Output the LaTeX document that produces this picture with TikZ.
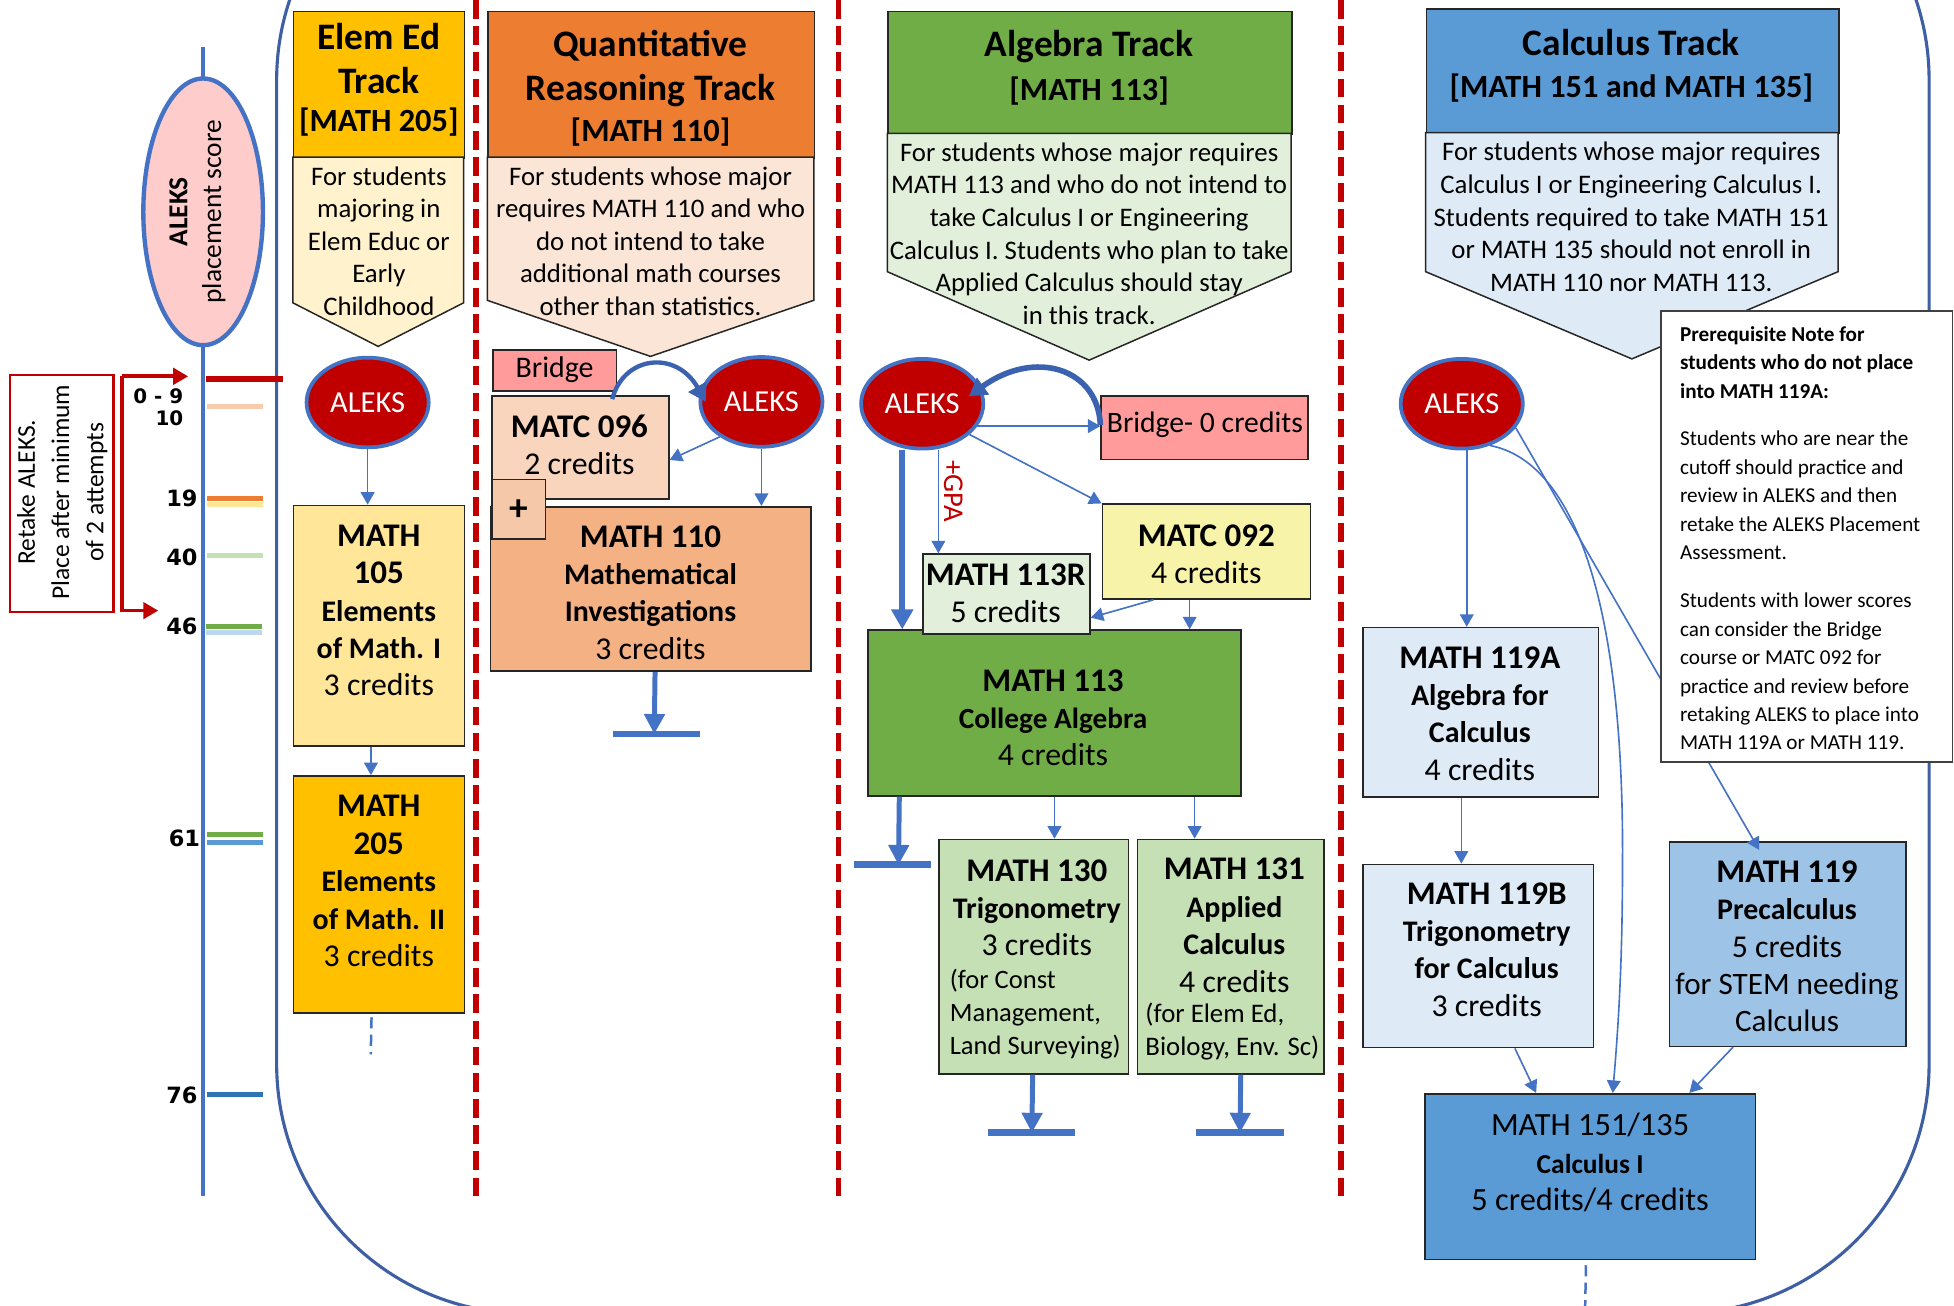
\documentclass[tikz,border=0pt]{standalone}
\usepackage{fontspec}
\setmainfont{Carlito}
\newfontfamily\scorefont{DejaVu Sans}
\usetikzlibrary{arrows.meta,shapes.geometric,calc}
\definecolor{dred}{HTML}{C00000}
\definecolor{lblue}{HTML}{4472C4}
\definecolor{contblue}{HTML}{3F5FA5}
\definecolor{cblue}{HTML}{3A62B0}
\definecolor{pinkell}{HTML}{FFCCCC}
\definecolor{gold}{HTML}{FFC000}
\definecolor{yelA}{HTML}{FFE699}
\definecolor{yelB}{HTML}{FFF2CC}
\definecolor{orng}{HTML}{ED7D31}
\definecolor{peach}{HTML}{F4B183}
\definecolor{peachB}{HTML}{FBE5D6}
\definecolor{matcA}{HTML}{F9D5BE}
\definecolor{plusc}{HTML}{F6C8AA}
\definecolor{grn}{HTML}{70AD47}
\definecolor{grnA}{HTML}{C5E0B4}
\definecolor{grnB}{HTML}{E2EFDA}
\definecolor{blu}{HTML}{5B9BD5}
\definecolor{bluA}{HTML}{9DC3E6}
\definecolor{bluB}{HTML}{DEEBF7}
\definecolor{bridgec}{HTML}{FF9B9B}
\definecolor{matcB}{HTML}{F7F3A8}
\definecolor{tkpeach}{HTML}{F8CBAD}
\definecolor{tkyel}{HTML}{FFE699}
\definecolor{tkgrnA}{HTML}{C5E0B4}
\definecolor{tkbluA}{HTML}{BDD7EE}
\definecolor{tkblu}{HTML}{2E75B6}
\newcommand\setfs[2]{\fontsize{#1}{#2}\selectfont}
\newcommand\cnum[1]{{\setfs{26.5}{30}\bfseries #1}}
\newcommand\csub[1]{{\setfs{24}{30}\bfseries #1}}
\newcommand\ccred[1]{{\setfs{25.5}{30}#1}}
\newcommand\mybox[6]{%
  \pgfmathsetmacro\bw{#5-#3}\pgfmathsetmacro\bh{#6-#4}%
  \node[box,fill=#2,minimum width=\bw pt,minimum height=\bh pt] (#1) at (#3,#4) {};}
\newcommand\penta[6]{%
  \pgfmathsetmacro\xm{(#2+#3)/2}%
  \draw[draw=black!85,line width=1.2pt,fill=#1] (#2,#4) -- (#3,#4) -- (#3,#5) -- (\xm,#6) -- (#2,#5) -- cycle;}
\begin{document}
\begin{tikzpicture}[x=1pt,y=-1pt,
  box/.style={draw=black!85,line width=1.3pt,inner sep=0pt,anchor=north west},
  txt/.style={inner sep=0pt,align=center,text=black},
  ltxt/.style={inner sep=0pt,align=left,text=black,anchor=west},
  aleks/.style={ellipse,draw=lblue,line width=3pt,fill=dred,text=white,minimum width=98pt,minimum height=72pt,inner sep=0pt,font=\setfs{24.5}{28}},
  conn/.style={draw=lblue,line width=1.3pt,-{Triangle[length=10pt,width=11pt]}},
  fat/.style={draw=lblue,line width=4.8pt,-{Triangle[length=16pt,width=17pt]}},
  term/.style={draw=lblue,line width=4pt,-{Triangle[length=16pt,width=16pt]}},
  bar/.style={draw=lblue,line width=5.5pt},
  sep/.style={draw=dred,line width=4.5pt,dash pattern=on 15pt off 6pt},
  tick/.style={line width=4pt},
  score/.style={inner sep=0pt,font=\scorefont\bfseries\setfs{18}{20}},
  redarr/.style={draw=dred,line width=3pt,-{Triangle[length=12pt,width=13pt]}},
  curvy/.style={draw=cblue,line width=4pt,-{Triangle[length=14pt,width=16pt]}},
  vdash/.style={draw=lblue,line width=2pt,dash pattern=on 9pt off 5pt},
  hdrA/.style={txt,font=\bfseries\setfs{30}{34}},
  hdrB/.style={txt,font=\bfseries\setfs{26}{30}},
  body/.style={txt,font=\setfs{21.5}{26.2}},
  crs/.style={txt,font=\setfs{25}{30}},
]
\useasboundingbox (0,0) rectangle (1568,1048);
\clip (0,0) rectangle (1568,1048);

% container
\draw[draw=contblue,line width=2.5pt,rounded corners=200pt] (222,-136) rectangle (1548,1054);

% separators
\draw[sep] (382,0) -- (382,963);
\draw[sep] (673,0) -- (673,963);
\draw[sep] (1076,0) -- (1076,963);

% score axis
\draw[lblue,line width=3pt] (163,38) -- (163,960);
\draw[tick,tkpeach] (166,326) -- (211,326);
\draw[tick,orng] (166,400) -- (211,400);
\draw[tick,tkyel] (166,405) -- (211,405);
\draw[tick,tkgrnA] (166,446) -- (211,446);
\draw[tick,grn] (165,503) -- (210,503);
\draw[tick,tkbluA] (165,507.5) -- (210,507.5);
\draw[tick,grn] (166,670) -- (211,670);
\draw[tick,blu] (166,676) -- (211,676);
\draw[tick,tkblu] (166,878) -- (211,878);
\draw[dred,line width=4.5pt] (165,304) -- (227,304);
\node[ellipse,draw=lblue,line width=3.5pt,fill=pinkell,minimum width=96pt,minimum height=214pt,inner sep=0pt] (place) at (163,170) {};
\node[txt,rotate=90,font=\setfs{22}{27}] (placetxt) at (158.5,170) {\textbf{ALEKS}\\placement score};

\node[score,font=\scorefont\bfseries\setfs{16}{17}] (s09) at (127,318) {0 - 9};
\node[score,font=\scorefont\bfseries\setfs{16}{17}] (s10) at (136,336) {10};
\node[score] (s19) at (146,400) {19};
\node[score] (s40) at (146,447) {40};
\node[score] (s46) at (146,503) {46};
\node[score] (s61) at (148,673) {61};
\node[score] (s76) at (146,879) {76};

% retake
\node[draw=dred,line width=2pt,anchor=north west,minimum width=83pt,minimum height=190pt,inner sep=0pt] (retake) at (7,300) {};
\node[txt,rotate=90,font=\setfs{20.5}{27.5}] (retaketxt) at (50,395) {Retake ALEKS.\\Place after minimum\\of 2 attempts};
\coordinate (rtop) at (98,302);
\coordinate (rbot) at (98,490);
\coordinate (r09) at (151,302);
\coordinate (r46) at (127,490);
\draw[redarr] (rtop) -- (r09);
\draw[redarr] (rtop) -- (rbot) -- (r46);

% ===== Elem Ed column
\mybox{elemh}{gold}{235}{8.6}{372}{126}
\penta{yelB}{235}{372}{126}{243}{278}
\node[hdrA] (elemhA) at (304,29) {Elem Ed};
\node[hdrA] (elemhB) at (304,65) {Track};
\node[hdrB] (elemhC) at (304,98) {[MATH 205]};
\node[body] (elembtxt) at (304,193.5) {For students\\majoring in\\Elem Educ or\\Early\\Childhood};
\node[aleks] (aleksA) at (295,323) {ALEKS};
\mybox{mA}{yelA}{235}{405}{372}{598}
\node[crs] (mAtxt) at (304,490) {\cnum{MATH}\\\cnum{105}\\\csub{Elements}\\\csub{of Math. I}\\\ccred{3 credits}};
\mybox{mB}{gold}{235}{622}{372}{812}
\node[crs] (mBtxt) at (304,707) {\cnum{MATH}\\\cnum{205}\\\csub{Elements}\\\csub{of Math. II}\\\ccred{3 credits}};
\draw[conn] (aleksA.south) -- (aleksA.south |- mA.north);
\draw[conn] ([xshift=-6.5pt]mA.south) -- ([xshift=-6.5pt]mB.north);
\coordinate (mBend) at (297.5,846);
\draw[vdash] ([xshift=-6pt,yshift=-3pt]mB.south) -- (mBend);

% ===== Quantitative column
\mybox{quanth}{orng}{391}{8.6}{653}{126}
\penta{peachB}{391}{653}{126}{241}{286}
\node[hdrA] (quanthA) at (522,37) {Quantitative};
\node[hdrA] (quanthB) at (522,73) {Reasoning Track};
\node[hdrB] (quanthC) at (522,106) {[MATH 110]};
\node[body] (quantbtxt) at (522,193.5) {For students whose major\\requires MATH 110 and who\\do not intend to take\\additional math courses\\other than statistics.};
\mybox{bridgeA}{bridgec}{395}{280}{494}{313}
\node[txt,font=\setfs{24}{27}] (bridgeAtxt) at (445,296.5) {Bridge};
\node[aleks] (aleksB) at (611,322.5) {ALEKS};
\mybox{matcA}{matcA}{394}{317}{536}{400}
\node[crs] (matcAtxt) at (465,357) {\cnum{MATC 096}\\\ccred{2 credits}};
\mybox{mC}{peach}{393}{406}{650}{538}
\node[box,fill=plusc,minimum width=43pt,minimum height=48pt] (plus) at (394,384) {};
\node[txt,font=\bfseries\setfs{30}{30}] (plustxt) at (416,409) {+};
\node[crs] (mCtxt) at (522,475.5) {\cnum{MATH 110}\\\csub{Mathematical}\\\csub{Investigations}\\\ccred{3 credits}};
\draw[curvy,line width=3.5pt] ([xshift=-4pt,yshift=-6pt]bridgeA.south east) .. controls (500,286) and (542,280) .. ([xshift=6pt]aleksB.west);
\draw[conn] (aleksB.220) -- ([yshift=-10pt]matcA.east);
\draw[conn] (aleksB.south) -- (aleksB.south |- mC.north);
\coordinate (barC) at (525,589);
\draw[term] ([xshift=3.5pt]mC.south) -- (barC);
\draw[bar] ([xshift=-33pt]barC) -- ([xshift=37pt]barC);

% ===== Algebra column
\mybox{algh}{grn}{712}{8.6}{1036}{107}
\penta{grnB}{712}{1036}{107}{218}{289}
\node[hdrA] (alghA) at (874,37) {Algebra Track};
\node[hdrB] (alghB) at (874,73) {[MATH 113]};
\node[body] (algbtxt) at (874,187.5) {For students whose major requires\\MATH 113 and who do not intend to\\take Calculus I or Engineering\\Calculus I. Students who plan to take\\Applied Calculus should stay\\in this track.};
\node[aleks] (aleksC) at (740,324) {ALEKS};
\mybox{bridgeB}{bridgec}{883}{317}{1049}{368}
\node[ltxt,font=\setfs{23.8}{27}] (bridgeBtxt) at (888,341) {Bridge- 0 credits};
\mybox{matcB}{matcB}{884}{404}{1051}{480}
\node[crs] (matcBtxt) at (968,445) {\cnum{MATC 092}\\\ccred{4 credits}};
\mybox{mD}{grn}{696}{505}{995}{638}
\node[crs] (mDtxt) at (845,576) {\cnum{MATH 113}\\{\setfs{23.5}{30}\bfseries College Algebra}\\\ccred{4 credits}};
\mybox{mDR}{grnB}{740}{444}{874}{508}
\node[crs] (mDRtxt) at (807,476) {\cnum{MATH 113R}\\\ccred{5 credits}};
\mybox{mE}{grnA}{753}{673}{905}{861}
\node[crs] (mEtxt) at (832,728.5) {\cnum{MATH 130}\\\csub{Trigonometry}\\\ccred{3 credits}};
\node[ltxt,font=\setfs{21.3}{26.5}] (mEtxt2) at (762,813.5) {(for Const\\Management,\\Land Surveying)};
\mybox{mF}{grnA}{912}{673}{1062}{861}
\node[crs] (mFtxt) at (990.5,742.5) {\cnum{MATH 131}\\\csub{Applied}\\\csub{Calculus}\\\ccred{4 credits}};
\node[ltxt,font=\setfs{21.5}{26.5}] (mFtxt2) at (919,828) {(for Elem Ed,\\Biology, Env. Sc)};
\draw[conn] (aleksC.-22) -- (aleksC.-22 -| bridgeB.west);
\draw[curvy,line width=4.5pt] ([yshift=2pt]bridgeB.west) .. controls (881,295) and (830,280) .. ([xshift=-13pt,yshift=6pt]aleksC.east);
\draw[conn] (aleksC.-33) -- (matcB.north west);
\draw[conn] ([xshift=13pt]aleksC.south) -- ([xshift=13pt]aleksC.south |- mDR.north);
\node[txt,rotate=-90,text=dred,font=\setfs{23}{26}] (gpa) at (765,394) {+GPA};
\draw[fat] ([xshift=-16pt]aleksC.south) -- ([xshift=-16pt]aleksC.south |- mD.north);
\draw[conn] ([xshift=-42.5pt]matcB.south) -- ([yshift=-19pt]mDR.east);
\draw[conn] ([xshift=-13.5pt]matcB.south) -- ([xshift=-13.5pt]matcB.south |- mD.north);
\coordinate (barD) at (716,694);
\draw[term] ([xshift=-124.5pt]mD.south) -- ([xshift=5pt]barD);
\draw[bar] ([xshift=-31pt]barD) -- ([xshift=31pt]barD);
\draw[conn] (mD.south) -- (mD.south |- mE.north);
\draw[conn] ([xshift=112.5pt]mD.south) -- ([xshift=112.5pt]mD.south |- mF.north);
\coordinate (barE) at (828,909);
\draw[term] ([xshift=-1pt]mE.south) -- (barE);
\draw[bar] ([xshift=-35pt]barE) -- ([xshift=35pt]barE);
\coordinate (barF) at (995,909);
\draw[term] ([xshift=8pt]mF.south) -- (barF);
\draw[bar] ([xshift=-35pt]barF) -- ([xshift=35pt]barF);

% ===== Calculus column
\mybox{calch}{blu}{1144}{6.7}{1475}{106.5}
\penta{bluB}{1144}{1475}{106.5}{218}{288}
\node[hdrA] (calchA) at (1309,34) {Calculus Track};
\node[hdrB] (calchB) at (1309,71) {[MATH 151 and MATH 135]};
\node[body] (calcbtxt) at (1309,174) {For students whose major requires\\Calculus I or Engineering Calculus I.\\Students required to take MATH 151\\or MATH 135 should not enroll in\\MATH 110 nor MATH 113.};
\node[aleks] (aleksD) at (1173,324) {ALEKS};
\mybox{mG}{bluB}{1093}{503}{1282}{639}
\node[crs] (mGtxt) at (1187.5,572.5) {\cnum{MATH 119A}\\\csub{Algebra for}\\\csub{Calculus}\\\ccred{4 credits}};
\mybox{mH}{bluB}{1093}{693}{1278}{840}
\node[crs] (mHtxt) at (1193,762) {\cnum{MATH 119B}\\\csub{Trigonometry}\\\csub{for Calculus}\\\ccred{3 credits}};
\mybox{mI}{bluA}{1339}{675}{1529}{839}
\node[crs] (mItxt) at (1434,759.5) {\cnum{MATH 119}\\\csub{Precalculus}\\\ccred{5 credits}\\for STEM needing\\Calculus};
\mybox{mJ}{blu}{1143}{877}{1408}{1010}
\node[crs] (mJtxt) at (1276,933) {{\setfs{26}{30}MATH 151/135}\\{\setfs{22}{30}\bfseries Calculus I}\\{\setfs{26}{30}5 credits/4 credits}};
\draw[conn] ([xshift=4pt]aleksD.south) -- ([xshift=4pt]aleksD.south |- mG.north);
\draw[conn] (aleksD.-24) -- ([xshift=-23pt,yshift=-7pt]mI.north);
\draw[conn] (aleksD.-56) .. controls (1262,370) and (1303,480) .. (1302,690) .. controls (1302,780) and (1298,830) .. ([xshift=18pt]mJ.north);
\draw[conn] ([xshift=-15.5pt]mG.south) -- ([xshift=-15.5pt]mG.south |- mH.north);
\draw[conn] ([xshift=29.5pt]mH.south) -- ([xshift=-43.5pt]mJ.north);
\draw[conn] ([xshift=-44pt]mI.south) -- ([xshift=79.5pt]mJ.north);
\coordinate (mJend) at (1272,1050);
\draw[vdash] ([xshift=-3.5pt,yshift=-4pt]mJ.south) -- (mJend);

% prerequisite note
\node[box,fill=white,draw=black!75,minimum width=234pt,minimum height=362pt] (note) at (1332,249) {};
\node[ltxt,font=\bfseries\setfs{17}{22.6}] (notea) at (1348,291) {Prerequisite Note for\\students who do not place\\into MATH 119A:};
\node[ltxt,font=\setfs{17}{22.8}] (noteb) at (1348,397.5) {Students who are near the\\cutoff should practice and\\review in ALEKS and then\\retake the ALEKS Placement\\Assessment.};
\node[ltxt,font=\setfs{17}{22.8}] (notec) at (1348,539) {Students with lower scores\\can consider the Bridge\\course or MATC 092 for\\practice and review before\\retaking ALEKS to place into\\MATH 119A or MATH 119.};
\end{tikzpicture}
\end{document}
